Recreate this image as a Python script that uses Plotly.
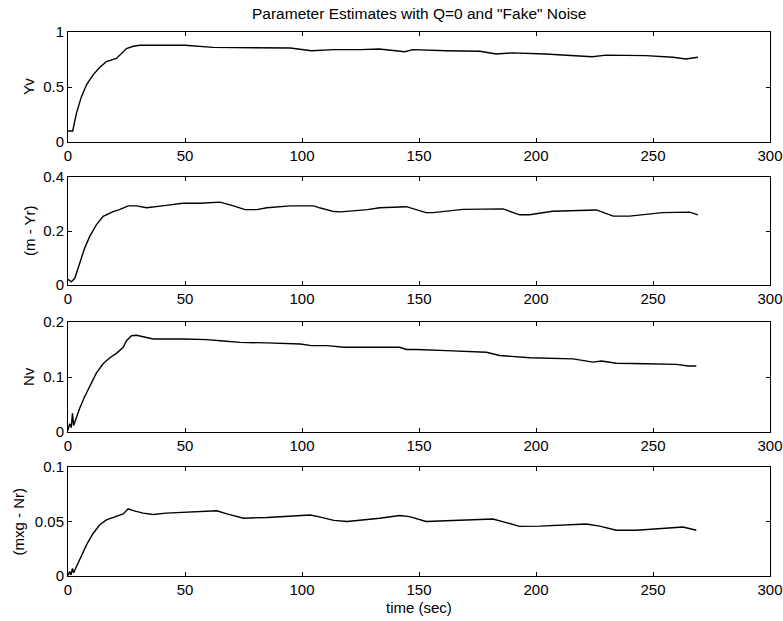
import plotly.graph_objects as go

# ---- data: parameter estimates vs. time ----
t_yv = [0, 2, 3.6, 5.7, 7.9, 10.7, 13.6, 16.4, 20.7, 22, 25, 27.9, 30.7, 40, 50, 62, 75, 85, 95,
        104, 113.6, 125, 133, 143.9, 147.4, 161.7, 176, 183, 190, 204, 218.7, 224, 230, 247,
        258.6, 264, 269.2]
yv = [0.1, 0.1, 0.26, 0.41, 0.52, 0.61, 0.68, 0.73, 0.76, 0.79, 0.85, 0.87, 0.88, 0.88, 0.88,
      0.86, 0.86, 0.86, 0.855, 0.83, 0.84, 0.84, 0.846, 0.82, 0.84, 0.83, 0.825, 0.80, 0.81,
      0.80, 0.785, 0.775, 0.79, 0.785, 0.77, 0.755, 0.77]

t_myr = [0, 1.4, 2.9, 5, 7.1, 9.3, 12.1, 15, 19.3, 22, 25.7, 29.3, 33.6, 42, 49, 56.4, 65, 70.7,
         75.7, 80.7, 85, 95, 105, 107.9, 113.6, 116.4, 128, 133.2, 144.6, 153, 156, 168.8,
         185.9, 193, 197.3, 207, 225.8, 233, 240, 254, 265.7, 269.2]
m_yr = [0.021, 0.012, 0.025, 0.08, 0.136, 0.18, 0.223, 0.254, 0.272, 0.279, 0.293, 0.293,
        0.286, 0.295, 0.303, 0.303, 0.307, 0.293, 0.279, 0.279, 0.286, 0.293, 0.293, 0.285,
        0.272, 0.271, 0.279, 0.286, 0.29, 0.268, 0.268, 0.28, 0.282, 0.26, 0.26, 0.273, 0.278,
        0.255, 0.255, 0.268, 0.27, 0.26]

t_nv = [0, 0.7, 1.4, 1.9, 2.4, 3.6, 5, 7.1, 9.3, 12.1, 15, 17.9, 20.7, 23.6, 25, 27.1, 29.3,
        33.6, 36.4, 49.3, 59.3, 65, 73.6, 85, 99.3, 104, 110.7, 117.9, 128, 133.2, 141.7,
        144.6, 148.9, 161.7, 178.8, 184.5, 197.3, 215.8, 224.4, 228, 234.3, 247, 260, 265, 268.5]
nv = [0.003, 0.015, 0.008, 0.034, 0.012, 0.027, 0.043, 0.064, 0.082, 0.107, 0.124, 0.135,
      0.143, 0.154, 0.166, 0.175, 0.176, 0.171, 0.169, 0.169, 0.168, 0.166, 0.163, 0.162,
      0.16, 0.157, 0.157, 0.154, 0.154, 0.155, 0.154, 0.15, 0.15, 0.148, 0.145, 0.139, 0.135,
      0.133, 0.127, 0.129, 0.125, 0.124, 0.123, 0.12, 0.12]

t_mnr = [0, 0.7, 1.3, 1.9, 2.4, 3.6, 5.7, 7.9, 10.7, 13.6, 16.4, 20.7, 23.6, 25.7, 27.9, 32.1,
         36.4, 42, 50.7, 63.6, 67.9, 75, 85, 95, 103.6, 107.9, 113.6, 119.3, 128, 133.2, 141.7,
         146, 153, 168.8, 181.6, 187.3, 193, 201.6, 211.5, 221.5, 227.2, 234.3, 243, 254.3,
         262.8, 268.5]
mxg_nr = [0.0006, 0.004, 0.001, 0.007, 0.003, 0.0086, 0.019, 0.0285, 0.039, 0.047, 0.0515,
          0.0546, 0.057, 0.0617, 0.06, 0.0577, 0.0564, 0.0577, 0.0586, 0.0598, 0.057, 0.053,
          0.0537, 0.055, 0.056, 0.054, 0.051, 0.05, 0.0515, 0.053, 0.0555, 0.0545, 0.050,
          0.0514, 0.0523, 0.049, 0.0455, 0.0458, 0.047, 0.0477, 0.0458, 0.042, 0.042, 0.044,
          0.045, 0.042]

x_ticks = [0, 50, 100, 150, 200, 250, 300]
panels = [
    ("Yv", t_yv, yv, [0, 0.5, 1], ["0", "0.5", "1"], 1.0),
    ("(m - Yr)", t_myr, m_yr, [0, 0.2, 0.4], ["0", "0.2", "0.4"], 0.4),
    ("Nv", t_nv, nv, [0, 0.1, 0.2], ["0", "0.1", "0.2"], 0.2),
    ("(mxg - Nr)", t_mnr, mxg_nr, [0, 0.05, 0.1], ["0", "0.05", "0.1"], 0.1),
]

W, H = 783, 621
x_left, x_right = 68, 770
rows_px = [(32, 142), (177, 285), (322, 432), (467, 576)]
label_x_px = [29, 29, 28, 18]

font = dict(family="Liberation Sans, Arial, sans-serif", size=15, color="black")
title_font = dict(family="Liberation Sans, Arial, sans-serif", size=15.5, color="black")

fig = go.Figure()
annotations = []
for i, (name, tt, vv, yt, ytl, ymax) in enumerate(panels):
    k = "" if i == 0 else str(i + 1)
    fig.add_trace(go.Scatter(x=tt, y=vv, mode="lines", xaxis="x" + k, yaxis="y" + k,
                             line=dict(color="black", width=1.4), showlegend=False))
    top, bot = rows_px[i]
    axis_common = dict(showline=True, linecolor="black", linewidth=1, mirror="ticks",
                       ticks="inside", ticklen=4, tickcolor="black", showgrid=False,
                       zeroline=False, tickfont=font, automargin=False)
    fig.layout["xaxis" + k] = dict(domain=[x_left / W, x_right / W], range=[0, 300],
                                   tickvals=x_ticks, ticktext=[str(v) for v in x_ticks],
                                   anchor="y" + k, **axis_common)
    fig.layout["yaxis" + k] = dict(domain=[1 - bot / H, 1 - top / H], range=[0, ymax],
                                   tickvals=yt, ticktext=ytl, anchor="x" + k, **axis_common)
    annotations.append(dict(text=name, textangle=-90, xref="paper", yref="paper",
                            x=label_x_px[i] / W, y=1 - (top + bot) / 2 / H,
                            showarrow=False, font=font, xanchor="center", yanchor="middle"))

annotations.append(dict(text='Parameter Estimates with Q=0 and "Fake" Noise', xref="paper",
                        yref="paper", x=(x_left + x_right) / 2 / W, y=1 - 14 / H,
                        showarrow=False, font=title_font, xanchor="center", yanchor="middle"))
annotations.append(dict(text="time (sec)", xref="paper", yref="paper",
                        x=(x_left + x_right) / 2 / W, y=1 - 607 / H, showarrow=False,
                        font=font, xanchor="center", yanchor="middle"))

fig.update_layout(width=W, height=H, margin=dict(l=0, r=0, t=0, b=0),
                  paper_bgcolor="white", plot_bgcolor="white", annotations=annotations)

fig.write_html("out.html")
